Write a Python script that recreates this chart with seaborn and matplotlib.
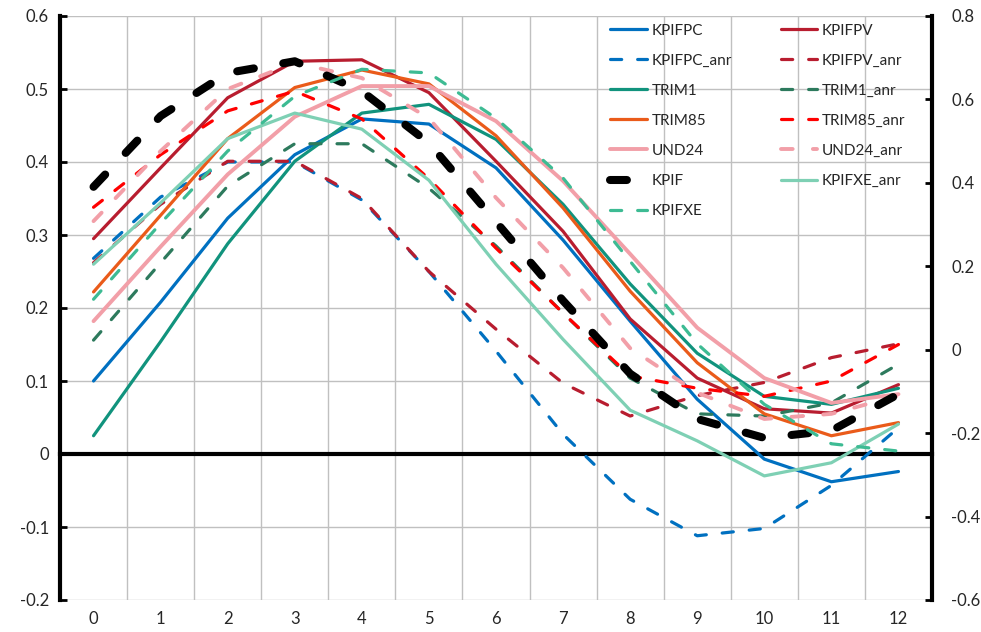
import numpy as np
import matplotlib
matplotlib.use("Agg")
import matplotlib.pyplot as plt
import seaborn as sns

sns.set_style("white")
plt.rcParams["font.family"] = ["Lato", "DejaVu Sans"]

# ============================================================
# DATA (left-axis units)
# ============================================================
horizon = list(range(13))

kpifpc = [0.100, 0.208, 0.323, 0.410, 0.459, 0.452, 0.392, 0.293, 0.182, 0.075, -0.007, -0.038, -0.024]
kpifpv = [0.295, 0.392, 0.488, 0.538, 0.540, 0.495, 0.401, 0.305, 0.185, 0.104, 0.062, 0.056, 0.095]
kpifpc_anr = [0.268, 0.352, 0.400, 0.400, 0.348, 0.250, 0.141, 0.027, -0.062, -0.112, -0.102, -0.043, 0.036]
kpifpv_anr = [0.262, 0.342, 0.401, 0.401, 0.350, 0.250, 0.171, 0.097, 0.052, 0.080, 0.098, 0.132, 0.151]
trim1 = [0.025, 0.154, 0.288, 0.401, 0.467, 0.479, 0.431, 0.342, 0.233, 0.138, 0.079, 0.068, 0.090]
trim1_anr = [0.156, 0.262, 0.367, 0.425, 0.425, 0.364, 0.285, 0.193, 0.104, 0.055, 0.052, 0.070, 0.123]
trim85 = [0.222, 0.327, 0.432, 0.502, 0.526, 0.507, 0.436, 0.337, 0.223, 0.125, 0.055, 0.025, 0.043]
trim85_anr = [0.338, 0.410, 0.470, 0.497, 0.459, 0.377, 0.282, 0.193, 0.107, 0.090, 0.079, 0.100, 0.150]
und24 = [0.182, 0.284, 0.383, 0.462, 0.504, 0.504, 0.456, 0.374, 0.274, 0.173, 0.104, 0.070, 0.082]
und24_anr = [0.319, 0.415, 0.500, 0.536, 0.515, 0.460, 0.351, 0.255, 0.145, 0.084, 0.048, 0.055, 0.080]
kpif = [0.366, 0.463, 0.522, 0.538, 0.497, 0.426, 0.318, 0.210, 0.110, 0.048, 0.022, 0.032, 0.082]
kpifxe_anr = [0.260, 0.344, 0.432, 0.467, 0.445, 0.375, 0.260, 0.157, 0.060, 0.018, -0.030, -0.012, 0.041]
kpifxe = [0.212, 0.316, 0.415, 0.490, 0.527, 0.522, 0.460, 0.378, 0.264, 0.151, 0.068, 0.014, 0.004]

left_ticks = [-0.2, -0.1, 0, 0.1, 0.2, 0.3, 0.4, 0.5, 0.6]
left_labels = ["-0.2", "-0.1", "0", "0.1", "0.2", "0.3", "0.4", "0.5", "0.6"]
right_ticks = [-0.6, -0.4, -0.2, 0, 0.2, 0.4, 0.6, 0.8]
right_labels = ["-0.6", "-0.4", "-0.2", "0", "0.2", "0.4", "0.6", "0.8"]

# name, values, colour, width, dash pattern (None = solid)
series = [
    ("KPIFPC", kpifpc, "#0070C0", 2.3, None),
    ("KPIFPV", kpifpv, "#B81D2F", 2.3, None),
    ("KPIFPC_anr", kpifpc_anr, "#0070C0", 2.3, (3.5, 5.0)),
    ("KPIFPV_anr", kpifpv_anr, "#B81D2F", 2.3, (3.5, 5.0)),
    ("TRIM1", trim1, "#11937D", 2.3, None),
    ("TRIM1_anr", trim1_anr, "#2D7A5D", 2.3, (3.5, 5.0)),
    ("TRIM85", trim85, "#EA5B1A", 2.3, None),
    ("TRIM85_anr", trim85_anr, "#FF0000", 2.3, (3.5, 5.0)),
    ("UND24", und24, "#F29FA8", 2.8, None),
    ("UND24_anr", und24_anr, "#F29FA8", 2.8, (3.0, 5.2)),
    ("KPIF", kpif, "#000000", 5.8, (2.1, 3.7)),
    ("KPIFXE_anr", kpifxe_anr, "#7ED0B4", 2.3, None),
    ("KPIFXE", kpifxe, "#3DBB93", 2.3, (3.5, 5.0)),
]

legend_order = ["KPIFPC", "KPIFPC_anr", "TRIM1", "TRIM85", "UND24", "KPIF", "KPIFXE",
                "KPIFPV", "KPIFPV_anr", "TRIM1_anr", "TRIM85_anr", "UND24_anr", "KPIFXE_anr"]

# ============================================================
# PLOT
# ============================================================
fig = plt.figure(figsize=(9.81, 6.32), dpi=100)
ax = fig.add_axes([60 / 981, 32 / 632, 872 / 981, 584 / 632])

handles = {}
for name, vals, color, lw, dash in series:
    sns.lineplot(x=horizon, y=vals, ax=ax, color=color, linewidth=lw, legend=False)
    line = ax.lines[-1]
    line.set_solid_capstyle("round")
    line.set_dash_capstyle("round")
    if dash is not None:
        line.set_dashes(dash)
    line.set_label(name)
    handles[name] = line

ax.set_xlim(-0.5, 12.5)
ax.set_ylim(-0.2, 0.6)
ax.set_xlabel("")
ax.set_ylabel("")

# category axis crosses at zero, ticks between categories
ax.spines["bottom"].set_position(("data", 0))
ax.spines["bottom"].set_color("black")
ax.spines["bottom"].set_linewidth(3)
ax.spines["bottom"].set_zorder(1)
ax.spines["left"].set_color("black")
ax.spines["left"].set_linewidth(3)
ax.spines["top"].set_visible(False)
ax.spines["right"].set_visible(False)

ax.set_xticks(np.arange(0.5, 12, 1))
ax.tick_params(axis="x", direction="in", length=5, width=2, color="black", labelbottom=False)
ax.set_yticks(left_ticks)
ax.set_yticklabels(left_labels)
ax.tick_params(axis="y", direction="in", length=5, width=2, color="black", labelsize=12, pad=8)
ax.grid(True, color="#C0C0C0", linewidth=1)
ax.set_axisbelow(True)

# labels along the bottom edge
secax = ax.secondary_xaxis("bottom")
secax.set_xticks(horizon)
secax.set_xticklabels([str(h) for h in horizon])
secax.tick_params(length=0, labelsize=12, pad=8)
secax.spines["bottom"].set_visible(False)

# right axis
ax2 = ax.twinx()
ax2.set_ylim(-0.6, 0.8)
ax2.set_yticks(right_ticks)
ax2.set_yticklabels(right_labels)
ax2.tick_params(axis="y", direction="in", length=5, width=2, color="black", labelsize=12, pad=14)
ax2.grid(False)
for s in ["top", "bottom", "left"]:
    ax2.spines[s].set_visible(False)
ax2.spines["right"].set_color("black")
ax2.spines["right"].set_linewidth(3)

ax.legend([handles[n] for n in legend_order], legend_order, ncol=2, loc="upper left",
          bbox_to_anchor=(0.622, 1.0), frameon=False, fontsize=11,
          handlelength=2.4, handletextpad=0.3, labelspacing=1.05,
          columnspacing=3.2, borderaxespad=0.1)

plt.savefig("out.png", dpi=100)
plt.close()
